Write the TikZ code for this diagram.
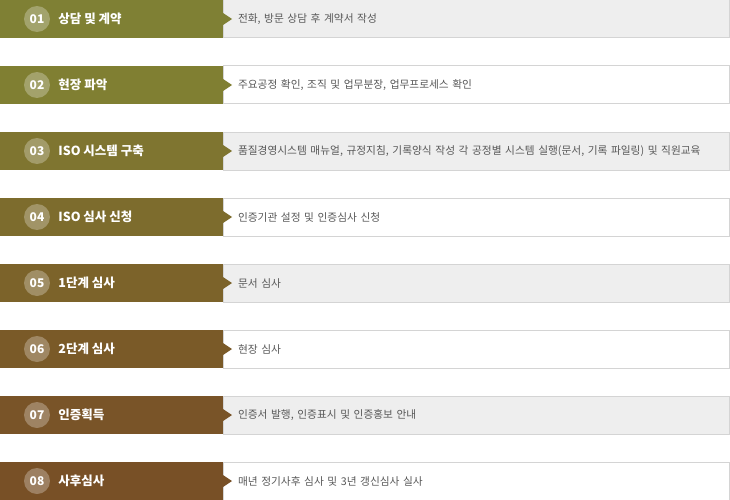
\documentclass[tikz,border=0pt]{standalone}
\usepackage{fontspec}
\setmainfont{Noto Sans CJK KR}
\usepackage{xcolor}
\usetikzlibrary{positioning}
\definecolor{stepone}{RGB}{127,128,52}
\definecolor{steptwo}{RGB}{128,127,50}
\definecolor{stepthree}{RGB}{127,117,48}
\definecolor{stepfour}{RGB}{125,108,45}
\definecolor{stepfive}{RGB}{124,99,42}
\definecolor{stepsix}{RGB}{122,90,40}
\definecolor{stepseven}{RGB}{121,84,40}
\definecolor{stepeight}{RGB}{120,80,38}
\definecolor{descgray}{RGB}{238,238,238}
\definecolor{boxline}{RGB}{212,212,212}
\definecolor{desctext}{RGB}{88,88,88}
\tikzset{
  bar/.style={minimum width=223pt, minimum height=38pt, inner sep=0pt, outer sep=0pt},
  num/.style={circle, fill=white, fill opacity=0.28, text opacity=1, text=white, minimum size=26pt, inner sep=0pt, font=\bfseries\fontsize{12}{12}\selectfont},
  lab/.style={text=white, inner sep=0pt, font=\bfseries\fontsize{12.5}{13}\selectfont},
  desc/.style={draw=boxline, line width=1pt, minimum height=38pt, text width=476pt, inner xsep=15pt, inner ysep=0pt, outer sep=0pt, align=left, text=desctext, font=\fontsize{10.7}{12}\selectfont},
}
\begin{document}
\begin{tikzpicture}
\useasboundingbox (0,0) rectangle (730pt,-500pt);
% bars
\node[bar, fill=stepone, anchor=north west] (bar1) at (0,0) {};
\node[bar, fill=steptwo, below=28pt of bar1] (bar2) {};
\node[bar, fill=stepthree, below=28pt of bar2] (bar3) {};
\node[bar, fill=stepfour, below=28pt of bar3] (bar4) {};
\node[bar, fill=stepfive, below=28pt of bar4] (bar5) {};
\node[bar, fill=stepsix, below=28pt of bar5] (bar6) {};
\node[bar, fill=stepseven, below=28pt of bar6] (bar7) {};
\node[bar, fill=stepeight, below=28pt of bar7] (bar8) {};
% numbers and titles
\node[num] (num1) at ([xshift=37pt]bar1.west) {01};
\node[lab, right=8pt of num1] (lab1) {상담 및 계약};
\node[num] (num2) at ([xshift=37pt]bar2.west) {02};
\node[lab, right=8pt of num2] (lab2) {현장 파악};
\node[num] (num3) at ([xshift=37pt]bar3.west) {03};
\node[lab, right=8pt of num3] (lab3) {ISO 시스템 구축};
\node[num] (num4) at ([xshift=37pt]bar4.west) {04};
\node[lab, right=8pt of num4] (lab4) {ISO 심사 신청};
\node[num] (num5) at ([xshift=37pt]bar5.west) {05};
\node[lab, right=8pt of num5] (lab5) {1단계 심사};
\node[num] (num6) at ([xshift=37pt]bar6.west) {06};
\node[lab, right=8pt of num6] (lab6) {2단계 심사};
\node[num] (num7) at ([xshift=37pt]bar7.west) {07};
\node[lab, right=8pt of num7] (lab7) {인증획득};
\node[num] (num8) at ([xshift=37pt]bar8.west) {08};
\node[lab, right=8pt of num8] (lab8) {사후심사};
% descriptions
\node[desc, fill=descgray, right=0pt of bar1] (desc1) {전화, 방문 상담 후 계약서 작성};
\node[desc, fill=white, right=0pt of bar2] (desc2) {주요공정 확인, 조직 및 업무분장, 업무프로세스 확인};
\node[desc, fill=descgray, right=0pt of bar3] (desc3) {품질경영시스템 매뉴얼, 규정지침, 기록양식 작성 각 공정별 시스템 실행(문서, 기록 파일링) 및 직원교육};
\node[desc, fill=white, right=0pt of bar4] (desc4) {인증기관 설정 및 인증심사 신청};
\node[desc, fill=descgray, right=0pt of bar5] (desc5) {문서 심사};
\node[desc, fill=white, right=0pt of bar6] (desc6) {현장 심사};
\node[desc, fill=descgray, right=0pt of bar7] (desc7) {인증서 발행, 인증표시 및 인증홍보 안내};
\node[desc, fill=white, right=0pt of bar8] (desc8) {매년 정기사후 심사 및 3년 갱신심사 실사};
% pointers
\fill[stepone] ([yshift=6pt]bar1.east) -- ++(9pt,-6pt) -- ++(-9pt,-6pt) -- cycle;
\fill[steptwo] ([yshift=6pt]bar2.east) -- ++(9pt,-6pt) -- ++(-9pt,-6pt) -- cycle;
\fill[stepthree] ([yshift=6pt]bar3.east) -- ++(9pt,-6pt) -- ++(-9pt,-6pt) -- cycle;
\fill[stepfour] ([yshift=6pt]bar4.east) -- ++(9pt,-6pt) -- ++(-9pt,-6pt) -- cycle;
\fill[stepfive] ([yshift=6pt]bar5.east) -- ++(9pt,-6pt) -- ++(-9pt,-6pt) -- cycle;
\fill[stepsix] ([yshift=6pt]bar6.east) -- ++(9pt,-6pt) -- ++(-9pt,-6pt) -- cycle;
\fill[stepseven] ([yshift=6pt]bar7.east) -- ++(9pt,-6pt) -- ++(-9pt,-6pt) -- cycle;
\fill[stepeight] ([yshift=6pt]bar8.east) -- ++(9pt,-6pt) -- ++(-9pt,-6pt) -- cycle;
\end{tikzpicture}
\end{document}
